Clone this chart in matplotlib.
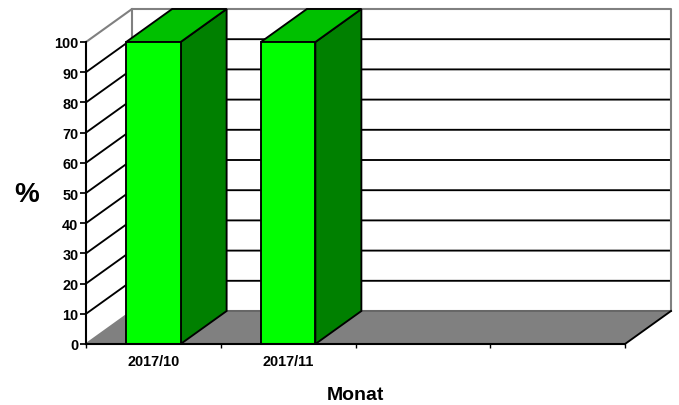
import matplotlib
matplotlib.use("Agg")
import matplotlib.pyplot as plt
from matplotlib.patches import Polygon

categories = ["2017/10", "2017/11", "", ""]
values = [100, 100]
y_ticks = list(range(0, 101, 10))
x_label = "Monat"
y_label = "%"

FRONT = "#00FF00"
TOP = "#00C000"
SIDE = "#008000"
FLOOR = "#808080"
WALL = "#808080"

W, H = 679, 406
plt.rcParams["font.family"] = ["Liberation Sans", "DejaVu Sans"]
plt.rcParams["font.weight"] = "bold"

fig = plt.figure(figsize=(W / 100, H / 100), dpi=100, facecolor="white")
L, R, T, B = 86, 625, 43, 345
ax = fig.add_axes([L / W, 1 - B / H, (R - L) / W, (B - T) / H])
ax.set_xlim(0, len(categories))
ax.set_ylim(0, 100)
ax.patch.set_visible(False)

# depth of the 3D box, in data units
DX = 46 / ((R - L) / len(categories))
DY = 33 / ((B - T) / 100)
XMAX = len(categories)
BAR_W = 54.5 / ((R - L) / len(categories))
LW = 1.35


def poly(pts, fc, z, ec="black", lw=LW):
    ax.add_patch(Polygon(pts, closed=True, facecolor=fc, edgecolor=ec,
                         linewidth=lw, zorder=z, clip_on=False, joinstyle="miter"))


def line(xs, ys, color, z, lw=LW):
    ax.plot(xs, ys, color=color, lw=lw, zorder=z, clip_on=False,
            solid_capstyle="projecting")


# walls and gridlines
for v in y_ticks[1:-1]:
    line([0, DX, XMAX + DX], [v, v + DY, v + DY], "black", 1)
line([0, DX, XMAX + DX, XMAX + DX, DX, DX],
     [100, 100 + DY, 100 + DY, DY, DY, 100 + DY], WALL, 1.5, lw=1.5)

# floor
poly([(0, 0), (XMAX, 0), (XMAX + DX, DY), (DX, DY)], FLOOR, 2, ec="none", lw=0)
line([DX, XMAX + DX], [DY, DY], "#666666", 2.1)
line([0, DX], [0, DY], WALL, 2.1)
line([XMAX, XMAX + DX], [0, DY], "black", 2.1)

# bars
for i, v in enumerate(values):
    x0 = i + 0.5 - BAR_W / 2
    x1 = i + 0.5 + BAR_W / 2
    z = 3 + i
    poly([(x1, 0), (x1 + DX, DY), (x1 + DX, v + DY), (x1, v)], SIDE, z)
    poly([(x0, v), (x1, v), (x1 + DX, v + DY), (x0 + DX, v + DY)], TOP, z)
    poly([(x0, 0), (x1, 0), (x1, v), (x0, v)], FRONT, z)

# axes
for s in ("top", "right"):
    ax.spines[s].set_visible(False)
for s in ("left", "bottom"):
    ax.spines[s].set_linewidth(1.5)
    ax.spines[s].set_zorder(10)

ax.set_yticks(y_ticks)
ax.set_yticklabels([str(t) for t in y_ticks], fontsize=10.4, fontweight="bold")
ax.tick_params(axis="y", length=4, width=1.25, pad=1.5)
ax.set_xticks(range(len(categories) + 1))
ax.set_xticklabels([])
ax.tick_params(axis="x", which="major", length=3, width=1.0)
ax.set_xticks([i + 0.5 for i in range(len(categories))], minor=True)
ax.set_xticklabels(categories, minor=True, fontsize=10.4, fontweight="bold")
ax.tick_params(axis="x", which="minor", length=0, pad=7.5)

ax.set_xlabel(x_label, fontsize=14, fontweight="bold")
ax.xaxis.set_label_coords((355 - L) / (R - L), (B - 395.5) / (B - T), transform=ax.transAxes)
ax.xaxis.label.set_verticalalignment("center")
ax.set_ylabel(y_label, rotation=0, fontsize=20, fontweight="bold", ha="center", va="center")
ax.yaxis.set_label_coords((27 - L) / (R - L), (B - 195) / (B - T), transform=ax.transAxes)

fig.savefig("out.png", dpi=100, facecolor="white")
